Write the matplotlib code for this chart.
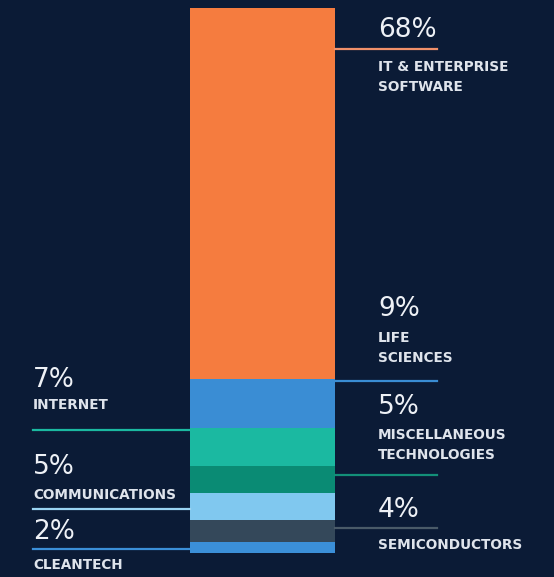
"""
Grafico de barra apilada: reparto por sector, con etiquetas a ambos lados.
"""

import matplotlib.pyplot as plt

# datos (de abajo hacia arriba)
sectores = ['CLEANTECH', 'SEMICONDUCTORS', 'COMMUNICATIONS',
            'MISCELLANEOUS\nTECHNOLOGIES', 'INTERNET', 'LIFE\nSCIENCES',
            'IT & ENTERPRISE\nSOFTWARE']
porcentajes = [2, 4, 5, 5, 7, 9, 68]
etiquetas_pct = ['2%', '4%', '5%', '5%', '7%', '9%', '68%']

# estilo
colores = ['#3b8fd8', '#34485a', '#80c8ef', '#0a8b74', '#1bb9a1', '#3a8dd4', '#f57c3f']
colores_linea = ['#3b8fd8', '#4a5a68', '#9ad4f2', '#138f78', '#1bb9a1', '#3a8dd4', '#f0906a']
lado = ['izq', 'der', 'izq', 'der', 'izq', 'der', 'der']
# posicion de la linea guia dentro de cada segmento (fraccion)
frac_linea = [0.37, 0.65, 0.41, 0.66, 0.94, 0.95, 0.89]
# posicion del texto (pixeles): y del porcentaje, y del nombre
pos_texto = [(532, 565), (510, 545), (467, 495), (407, 445), (380, 405), (309, 348), (30, 77)]

fondo = '#0b1b36'
W, H = 554, 577

fig = plt.figure(figsize=(W / 100, H / 100), dpi=100, facecolor=fondo)
ax = fig.add_axes([190 / W, (H - 553) / H, 145 / W, 545 / H])
ax.set_facecolor(fondo)

base = 0
tr = ax.get_yaxis_transform()
for i, v in enumerate(porcentajes):
    ax.bar(0, v, bottom=base, width=1, color=colores[i], linewidth=0)
    y = base + v * frac_linea[i]
    if lado[i] == 'der':
        ax.plot([1, (437 - 190) / 145], [y, y], transform=tr,
                color=colores_linea[i], lw=1.6, clip_on=False)
    else:
        ax.plot([(33 - 190) / 145, 0], [y, y], transform=tr,
                color=colores_linea[i], lw=1.6, clip_on=False)
    base += v

ax.set_xlim(-0.5, 0.5)
ax.set_ylim(0, 100)
ax.axis('off')

for i in range(len(porcentajes)):
    x = 378 if lado[i] == 'der' else 33
    yp, yn = pos_texto[i]
    fig.text(x / W, 1 - yp / H, etiquetas_pct[i], color='#eef1f6',
             fontsize=19, family='DejaVu Sans', va='center', ha='left')
    fig.text(x / W, 1 - yn / H, sectores[i], color='#dfe4ec',
             fontsize=9.8, family='DejaVu Sans', fontweight='semibold',
             va='center', ha='left', linespacing=1.55)

fig.savefig('out.png', dpi=100, facecolor=fondo)
